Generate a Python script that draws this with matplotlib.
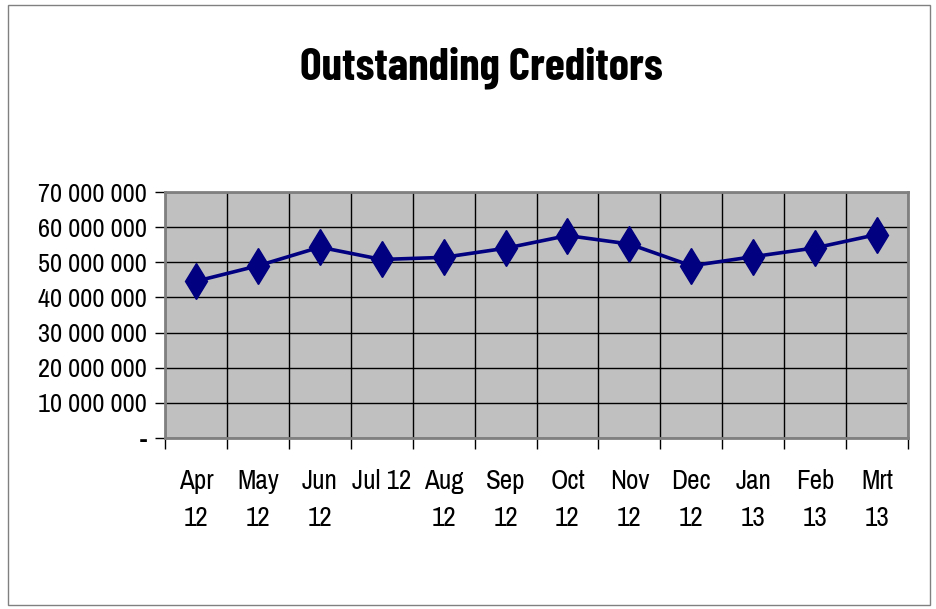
import matplotlib
matplotlib.use("Agg")
import matplotlib.pyplot as plt
from matplotlib import font_manager
from matplotlib.patches import Rectangle
from matplotlib.ticker import FixedLocator

names = {f.name for f in font_manager.fontManager.ttflist}
FONT = "Archivo Narrow" if "Archivo Narrow" in names else "Liberation Sans"
TFONT = "Barlow Condensed" if "Barlow Condensed" in names else "Liberation Sans"
plt.rcParams['font.family'] = [FONT, 'DejaVu Sans']

months = ["Apr\n12", "May\n12", "Jun\n12", "Jul 12", "Aug\n12", "Sep\n12", "Oct\n12",
          "Nov\n12", "Dec\n12", "Jan\n13", "Feb\n13", "Mrt\n13"]
creditors = [44.6e6, 49.0e6, 54.3e6, 50.8e6, 51.4e6, 54.0e6, 57.6e6,
             55.2e6, 49.0e6, 51.6e6, 54.1e6, 57.9e6]
yticks = [0, 10e6, 20e6, 30e6, 40e6, 50e6, 60e6, 70e6]

fig = plt.figure(figsize=(9.36, 6.09), dpi=100)
fig.patches.append(Rectangle((8/936, 4/609), 922/936, 600/609, transform=fig.transFigure,
                             fill=False, edgecolor="#808080", linewidth=1))
ax = fig.add_axes([165/936, 1 - 438/609, (908 - 165)/936, (438 - 192)/609])
ax.set_facecolor("#C0C0C0")

x = list(range(len(months)))
ax.plot(x, creditors, color="#000080", linewidth=2.6, marker="d", markersize=18,
        markerfacecolor="#000080", markeredgecolor="#000080", zorder=3)

ax.set_xlim(-0.5, len(months) - 0.5)
ax.set_ylim(0, 70e6)
ax.set_yticks(yticks)
ax.set_yticklabels(["-" if v == 0 else f"{int(v):,}".replace(",", " ") for v in yticks])
ax.set_xticks(x)
ax.set_xticklabels(months, linespacing=1.6)
ax.xaxis.set_minor_locator(FixedLocator([i - 0.5 for i in range(len(months) + 1)]))

ax.grid(True, axis="y", color="black", linewidth=1)
ax.grid(True, axis="x", which="minor", color="black", linewidth=1)
ax.set_axisbelow(True)

ax.tick_params(axis="x", which="major", length=0, pad=22, labelsize=19.5)
ax.tick_params(axis="x", which="minor", length=8, width=1, color="black", direction="out")
ax.tick_params(axis="y", length=7, width=1, color="black", direction="out", labelsize=19, pad=6)

for s in ax.spines.values():
    s.set_color("#808080")
    s.set_linewidth(2)

fig.text(481/936, 1 - 68/609, "Outstanding Creditors", ha="center", va="center",
         fontsize=33, fontweight="bold", family=[TFONT, "DejaVu Sans"])

fig.savefig("out.png", dpi=100)
